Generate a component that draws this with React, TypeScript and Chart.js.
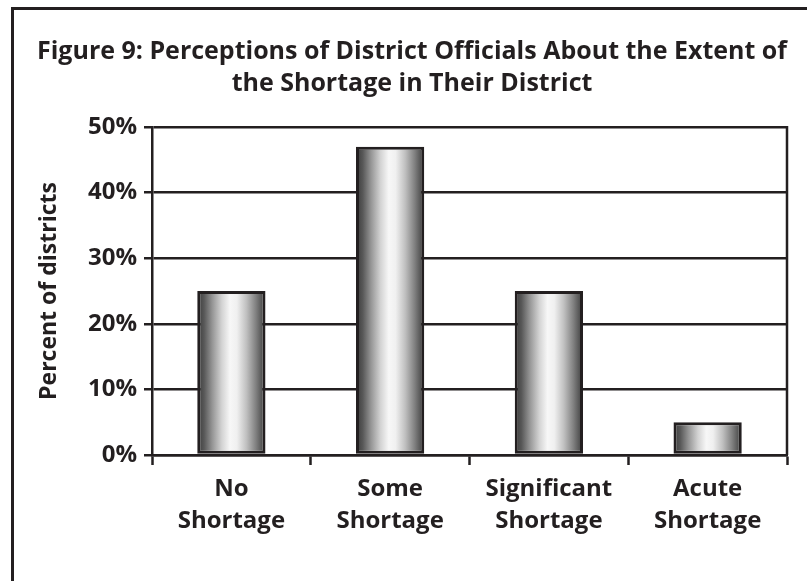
import React, { useEffect, useRef } from "react";
import { Chart, registerables } from "chart.js";

Chart.register(...registerables);

const categories: string[][] = [
  ["No", "Shortage"],
  ["Some", "Shortage"],
  ["Significant", "Shortage"],
  ["Acute", "Shortage"],
];
const percentValues: number[] = [25, 47, 25, 5];
const yTicks: number[] = [0, 10, 20, 30, 40, 50];
const titleLines: string[] = [
  "Figure 9: Perceptions of District Officials About the Extent of",
  "the Shortage in Their District",
];
const yAxisTitle = "Percent of districts";

const INK = "#231f20";
const FONT = "'Open Sans', 'DejaVu Sans', sans-serif";

const framePlugin = {
  id: "frame",
  beforeDraw(chart: any) {
    const { ctx, width, height } = chart;
    ctx.save();
    ctx.fillStyle = "#ffffff";
    ctx.fillRect(0, 0, width, height);
    ctx.strokeStyle = INK;
    ctx.lineWidth = 3;
    ctx.beginPath();
    ctx.moveTo(12.5, height);
    ctx.lineTo(12.5, 8.5);
    ctx.lineTo(width, 8.5);
    ctx.stroke();
    ctx.restore();
  },
  afterDraw(chart: any) {
    const { ctx, chartArea } = chart;
    ctx.save();
    ctx.strokeStyle = INK;
    ctx.lineWidth = 2.5;
    ctx.beginPath();
    ctx.moveTo(chartArea.right, chartArea.top - 1);
    ctx.lineTo(chartArea.right, chartArea.bottom);
    ctx.stroke();
    ctx.restore();
  },
};

const CAT_PCT = 0.86;
const BAR_PCT = 0.5;

function barGradient(c: any) {
  const chart = c.chart;
  const xs = chart.scales?.x;
  if (!chart.chartArea || !xs) return "#aaaaaa";
  const x = xs.getPixelForValue(c.dataIndex);
  const w = (xs.width / categories.length) * CAT_PCT * BAR_PCT;
  const g = chart.ctx.createLinearGradient(x - w / 2, 0, x + w / 2, 0);
  g.addColorStop(0, "#3a3a3a");
  g.addColorStop(0.1, "#585858");
  g.addColorStop(0.22, "#959595");
  g.addColorStop(0.36, "#d3d3d3");
  g.addColorStop(0.48, "#f7f7f7");
  g.addColorStop(0.58, "#f0f0f0");
  g.addColorStop(0.72, "#c0c0c0");
  g.addColorStop(0.86, "#808080");
  g.addColorStop(1, "#3a3a3a");
  return g;
}

export default function App() {
  const ref = useRef<HTMLCanvasElement | null>(null);

  useEffect(() => {
    if (!ref.current) return;
    const chart = new Chart(ref.current, {
      type: "bar",
      data: {
        labels: categories,
        datasets: [
          {
            data: percentValues,
            backgroundColor: barGradient,
            borderColor: INK,
            borderWidth: 3,
            borderSkipped: false,
            categoryPercentage: CAT_PCT,
            barPercentage: BAR_PCT,
          },
        ],
      },
      options: {
        animation: false,
        responsive: false,
        maintainAspectRatio: false,
        layout: { padding: { left: 37, right: 20, top: 0, bottom: 0 } },
        plugins: {
          legend: { display: false },
          tooltip: { enabled: false },
          title: {
            display: true,
            text: titleLines,
            color: INK,
            font: { family: FONT, size: 25, weight: "bold", lineHeight: 32 / 25 },
            padding: { top: 36, bottom: 27 },
          },
        },
        scales: {
          x: {
            afterFit: (s: any) => {
              s.height = 126;
            },
            grid: {
              display: true,
              drawOnChartArea: false,
              drawTicks: true,
              tickLength: 10,
              tickColor: INK,
              tickWidth: 2.5,
              offset: true,
            },
            border: { display: true, color: INK, width: 2.5 },
            ticks: {
              color: INK,
              padding: 8,
              maxRotation: 0,
              autoSkip: false,
              font: { family: FONT, size: 24, weight: "bold", lineHeight: 32 / 24 },
            },
          },
          y: {
            min: 0,
            max: 50,
            afterFit: (s: any) => {
              s.width = 115;
            },
            afterBuildTicks: (s: any) => {
              s.ticks = yTicks.map((v) => ({ value: v }));
            },
            grid: {
              color: INK,
              lineWidth: 2.5,
              drawTicks: true,
              tickLength: 8,
              tickColor: INK,
              tickWidth: 2.5,
            },
            border: { display: true, color: INK, width: 2.5 },
            ticks: {
              color: INK,
              padding: 7,
              font: { family: FONT, size: 24, weight: "bold" },
              callback: (v: any) => `${v}%`,
            },
            title: {
              display: true,
              text: yAxisTitle,
              color: INK,
              padding: { top: -1, bottom: 0 },
              font: { family: FONT, size: 23, weight: "bold" },
            },
          },
        },
      },
      plugins: [framePlugin],
    });
    return () => chart.destroy();
  }, []);

  return (
    <div style={{ position: "absolute", left: 0, top: 0, width: 807, height: 581, background: "#fff" }}>
      <canvas ref={ref} width={807} height={581} style={{ display: "block" }} />
    </div>
  );
}
